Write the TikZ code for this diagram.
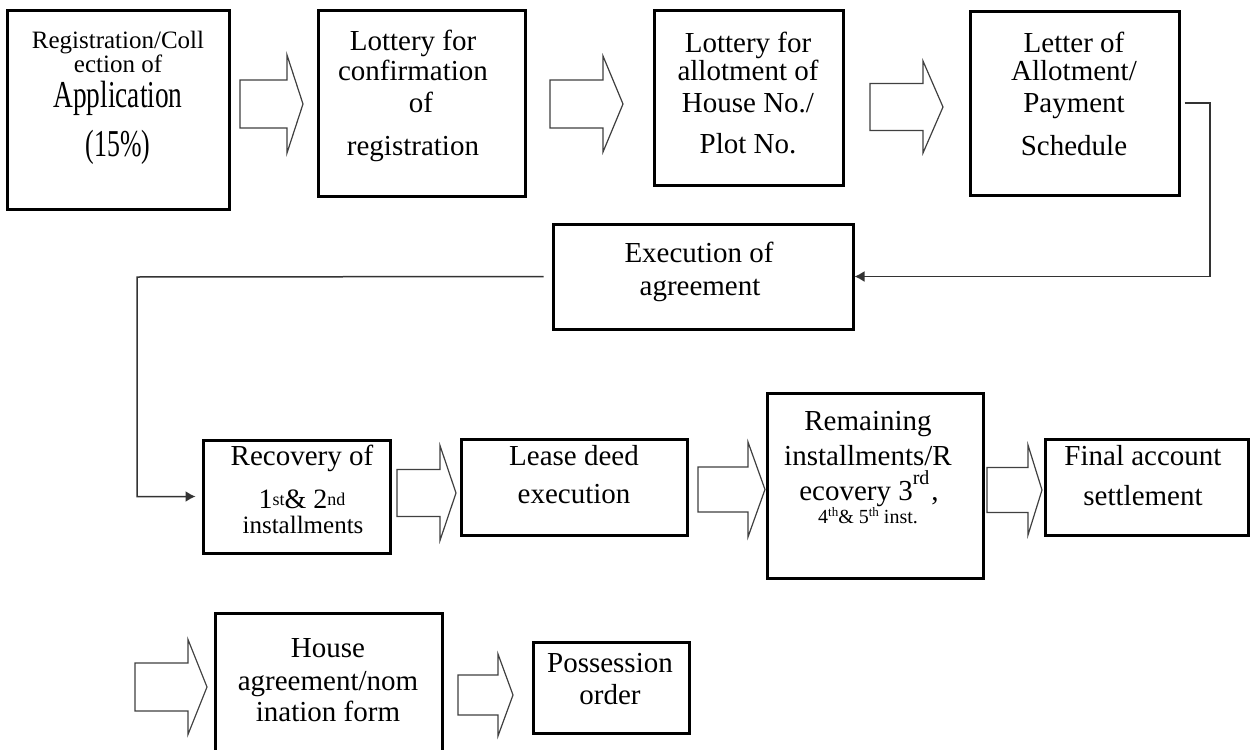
\documentclass[tikz,border=0pt]{standalone}
\usepackage{fontspec}
\setmainfont{Liberation Serif}
\usepackage{graphicx}
\usetikzlibrary{arrows.meta,fit}
\newcommand{\blockarrow}[6]{% x0 xh xt ymid shafthalf headhalf
  \draw[blockarr] (#1,#4-#5) -- (#2,#4-#5) -- (#2,#4-#6) -- (#3,#4) -- (#2,#4+#6) -- (#2,#4+#5) -- (#1,#4+#5) -- cycle;}
\newcommand{\supx}[2]{\raisebox{#1}{\fontsize{9}{9}\selectfont #2}}
\begin{document}
\begin{tikzpicture}[x=0.5pt,y=-0.5pt,
  box/.style={draw=black, line width=1.5pt, inner sep=0pt},
  txt/.style={anchor=base, inner sep=0pt, font=\fontsize{14.5}{14.5}\selectfont},
  smalltxt/.style={anchor=base, inner sep=0pt, font=\fontsize{12.5}{12.5}\selectfont},
  tinytxt/.style={anchor=base, inner sep=0pt, font=\fontsize{10}{10}\selectfont},
  blockarr/.style={draw=black!75, line width=0.6pt, line join=miter, fill=white},
  conn/.style={draw=black!80, line width=0.75pt},
  tip/.style={-{Latex[length=5pt,width=5.5pt]}}
]
\useasboundingbox (0,0) rectangle (1250,750);
\fill[white] (0,0) rectangle (1250,750);
\clip (0,0) rectangle (1250,750);

% ---------- boxes ----------
\node[box, fit={(7,10) (229,209)}] (b1) {};
\node[box, fit={(318,10) (525,196)}] (b2) {};
\node[box, fit={(654,10) (843,185)}] (b3) {};
\node[box, fit={(970,11) (1179,195)}] (b4) {};
\node[box, fit={(553,224) (853,329)}] (b5) {};
\node[box, fit={(203,440) (390,553)}] (b6) {};
\node[box, fit={(461,439) (687,535)}] (b7) {};
\node[box, fit={(767,393) (983,578)}] (b8) {};
\node[box, fit={(1045,439) (1248,535)}] (b9) {};
\node[box, fit={(215,613) (442,770)}] (b10) {};
\node[box, fit={(533,642) (689,733)}] (b11) {};

% ---------- texts ----------
\node[smalltxt] (t1a) at (118,48) {Registration/Coll};
\node[smalltxt] (t1b) at (118,72) {ection of};
\node[anchor=base, inner sep=0pt] (t1c) at (118,107) {\scalebox{0.72}[1]{\fontsize{19}{19}\selectfont Application}};
\node[anchor=base, inner sep=0pt] (t1d) at (118,156) {\scalebox{0.68}[1]{\fontsize{19}{19}\selectfont (15\%)}};

\node[txt] (t2a) at (413,50) {Lottery for};
\node[txt] (t2b) at (413,80) {confirmation};
\node[txt] (t2c) at (421,112) {of};
\node[txt] (t2d) at (413,155) {registration};

\node[txt] (t3a) at (748,52) {Lottery for};
\node[txt] (t3b) at (748,80) {allotment of};
\node[txt] (t3c) at (748,112) {House No./};
\node[txt] (t3d) at (748,153) {Plot No.};

\node[txt] (t4a) at (1074,52) {Letter of};
\node[txt] (t4b) at (1074,80) {Allotment/};
\node[txt] (t4c) at (1074,112) {Payment};
\node[txt] (t4d) at (1074,155) {Schedule};

\node[txt] (t5a) at (699,262) {Execution of};
\node[txt] (t5b) at (700,295) {agreement};

\node[txt] (t6a) at (302,465) {Recovery of};
\node[anchor=base, inner sep=0pt, font=\fontsize{14}{14}\selectfont] (t6b) at (302,508) {1\supx{1.5pt}{st}\&~2\supx{1.5pt}{nd}};
\node[smalltxt] (t6c) at (303,533) {installments};

\node[txt] (t7a) at (574,465) {Lease deed};
\node[txt] (t7b) at (574,503) {execution};

\node[txt] (t8a) at (868,430) {Remaining};
\node[txt] (t8b) at (868,465) {installments/R};
\node[txt] (t8c) at (869,500) {ecovery 3\raisebox{8pt}{\fontsize{10}{10}\selectfont rd}\hspace{1pt},};
\node[tinytxt] (t8d) at (868,523) {4\raisebox{3.5pt}{\fontsize{6.5}{6.5}\selectfont th}\& 5\raisebox{3.5pt}{\fontsize{6.5}{6.5}\selectfont th} inst.};

\node[txt] (t9a) at (1143,465) {Final account};
\node[txt] (t9b) at (1143,505) {settlement};

\node[txt] (t10a) at (328,657) {House};
\node[txt] (t10b) at (328,690) {agreement/nom};
\node[txt] (t10c) at (328,721) {ination form};

\node[txt] (t11a) at (610,672) {Possession};
\node[txt] (t11b) at (610,704) {order};

% ---------- block arrows ----------
\blockarrow{240}{287}{303}{104}{24}{49}
\blockarrow{550}{603}{623}{104}{24}{48}
\blockarrow{870}{923}{943}{107}{23.5}{46}
\blockarrow{397}{440}{456}{493}{23.5}{47.5}
\blockarrow{698}{748}{765}{489.5}{22.5}{47.5}
\blockarrow{987}{1028}{1042}{490}{22.5}{45}
\blockarrow{135}{188}{207}{687}{24}{47.5}
\blockarrow{458}{498}{513}{695}{20}{41}

% ---------- connectors ----------
\coordinate (k1) at (1210,103);
\coordinate (k2) at (137,277);
\draw[conn, tip] ([xshift=2pt]b4.east) -- (k1) |- (b5.east);
\draw[conn, tip, shorten >=3pt] ([xshift=-4pt]b5.west) -- (k2) |- (b6.west);
\end{tikzpicture}
\end{document}
